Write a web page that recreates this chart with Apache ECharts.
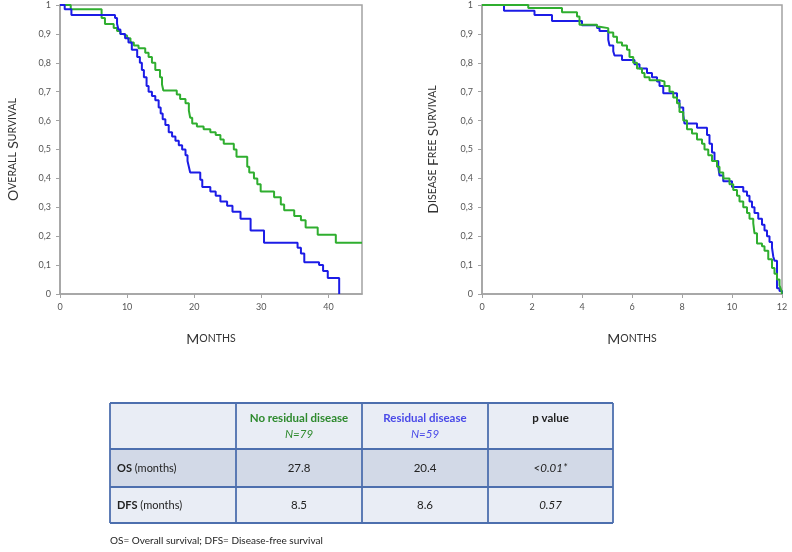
<!DOCTYPE html>
<html>
<head>
<meta charset="utf-8">
<script src="https://cdn.jsdelivr.net/npm/echarts@6/dist/echarts.min.js"></script>
<style>
html,body{margin:0;padding:0;background:#fff;}
#chart{width:792px;height:552px;}
</style>
</head>
<body>
<div id="chart"></div>
<script>
// ---- Overall survival (months) ----
const osNoResTime = [0, 1.6, 6.2, 6.7, 8.0, 8.5, 9.0, 9.3, 10.0, 10.5, 11.0, 11.7, 12.7, 13.2, 13.7, 14.2, 14.9, 15.2, 15.4, 17.4, 17.9, 18.7, 19.2, 19.4, 19.7, 20.4, 21.4, 22.4, 23.2, 23.9, 24.4, 25.9, 26.3, 27.9, 28.2, 28.9, 29.4, 29.9, 31.9, 32.9, 33.4, 34.9, 35.9, 36.6, 38.4, 41.1, 45];
const osNoResSurv = [1, 0.985, 0.955, 0.934, 0.92, 0.91, 0.90, 0.894, 0.885, 0.87, 0.86, 0.85, 0.835, 0.82, 0.80, 0.775, 0.75, 0.725, 0.704, 0.69, 0.675, 0.66, 0.635, 0.61, 0.59, 0.58, 0.57, 0.56, 0.55, 0.535, 0.52, 0.50, 0.475, 0.44, 0.42, 0.40, 0.38, 0.355, 0.335, 0.31, 0.29, 0.27, 0.255, 0.23, 0.205, 0.177, 0.177];
const osResTime = [0, 0.7, 1.7, 8.2, 8.5, 8.7, 9.0, 9.7, 10.2, 10.7, 11.5, 11.9, 12.2, 12.5, 12.9, 13.2, 13.7, 14.2, 14.7, 15.0, 15.3, 15.7, 16.2, 16.7, 17.2, 17.7, 18.2, 18.7, 19.0, 19.2, 19.4, 20.9, 21.2, 22.4, 23.2, 23.9, 24.9, 25.7, 26.9, 28.4, 30.4, 35.4, 35.9, 36.4, 38.6, 39.2, 39.9, 41.6];
const osResSurv = [1, 0.985, 0.965, 0.955, 0.935, 0.915, 0.90, 0.885, 0.87, 0.845, 0.82, 0.80, 0.775, 0.75, 0.72, 0.70, 0.685, 0.67, 0.645, 0.625, 0.605, 0.585, 0.56, 0.545, 0.53, 0.515, 0.50, 0.48, 0.46, 0.44, 0.42, 0.395, 0.37, 0.355, 0.34, 0.32, 0.305, 0.285, 0.26, 0.22, 0.177, 0.16, 0.14, 0.11, 0.10, 0.08, 0.055, 0];

// ---- Disease free survival (months) ----
const dfsNoResTime = [0, 1.85, 3.2, 3.8, 3.9, 4.6, 4.7, 5.05, 5.25, 5.4, 5.6, 5.8, 5.9, 6.05, 6.2, 6.4, 6.5, 6.7, 7.1, 7.3, 7.5, 7.65, 7.8, 7.9, 8.05, 8.2, 8.4, 8.6, 8.8, 8.9, 9.05, 9.2, 9.4, 9.5, 9.65, 9.9, 10.05, 10.2, 10.3, 10.45, 10.6, 10.7, 10.85, 10.9, 11.0, 11.2, 11.3, 11.45, 11.6, 11.7, 11.8, 11.9, 11.98, 12];
const dfsNoResSurv = [1, 0.99, 0.975, 0.96, 0.932, 0.925, 0.92, 0.905, 0.89, 0.87, 0.86, 0.845, 0.82, 0.80, 0.78, 0.765, 0.75, 0.74, 0.735, 0.72, 0.70, 0.68, 0.66, 0.63, 0.60, 0.57, 0.555, 0.535, 0.52, 0.50, 0.48, 0.46, 0.44, 0.42, 0.40, 0.38, 0.36, 0.34, 0.32, 0.30, 0.28, 0.26, 0.245, 0.21, 0.175, 0.165, 0.15, 0.12, 0.09, 0.07, 0.05, 0.03, 0.01, 0];
const dfsResTime = [0, 0.88, 2.1, 2.8, 4.0, 4.6, 4.7, 5.05, 5.1, 5.25, 5.3, 5.6, 6.1, 6.3, 6.6, 6.8, 7.0, 7.1, 7.25, 7.8, 7.9, 8.05, 8.1, 8.6, 9.0, 9.1, 9.2, 9.3, 9.45, 9.5, 9.65, 10.0, 10.45, 10.6, 10.7, 10.8, 10.9, 11.05, 11.2, 11.3, 11.4, 11.5, 11.6, 11.65, 11.7, 11.8, 11.9, 12];
const dfsResSurv = [1, 0.98, 0.965, 0.945, 0.93, 0.92, 0.91, 0.88, 0.86, 0.84, 0.825, 0.81, 0.795, 0.78, 0.765, 0.75, 0.735, 0.72, 0.695, 0.67, 0.645, 0.62, 0.59, 0.575, 0.55, 0.52, 0.49, 0.46, 0.44, 0.41, 0.39, 0.37, 0.355, 0.34, 0.32, 0.30, 0.28, 0.26, 0.24, 0.22, 0.20, 0.18, 0.16, 0.13, 0.115, 0.02, 0.01, 0];

// ---- Table ----
const tableHeaders = ['', 'No residual disease', 'Residual disease', 'p value'];
const tableHeaderN = ['', 'N=79', 'N=59', ''];
const rowLabels = ['OS', 'DFS'];
const rowUnits = [' (months)', ' (months)'];
const noResMedian = ['27.8', '8.5'];
const resMedian = ['20.4', '8.6'];
const pValues = ['<0.01*', '0.57'];
const footnote = 'OS= Overall survival; DFS= Disease-free survival';

const GREEN = '#2fae2f';
const BLUE = '#1c1ce6';
const AXISC = '#a3a3a3';

function pairs(t, s) { return t.map((v, i) => [v, s[i]]); }
function yFmt(v) {
  if (Math.abs(v) < 1e-9) return '0';
  if (Math.abs(v - 1) < 1e-9) return '1';
  return v.toFixed(1).replace('.', ',');
}

const rich = {
  a: { fontSize: 14, color: '#333', fontFamily: 'Lato' },
  b: { fontSize: 10.5, color: '#333', fontFamily: 'Lato' }
};

function xAxis(idx, max, interval) {
  return {
    type: 'value', gridIndex: idx, min: 0, max: max, interval: interval,
    axisLine: { show: true, lineStyle: { color: AXISC, width: 1.5 } },
    axisTick: { show: true, inside: false, length: 4, lineStyle: { color: AXISC } },
    axisLabel: { fontSize: 9, color: '#555', margin: 9, fontFamily: 'Lato', showMaxLabel: max % interval === 0,
      formatter: v => (Math.abs(v % interval) < 1e-9 ? String(v) : '') },
    splitLine: { show: false },
    name: '{a|M}{b|ONTHS}', nameLocation: 'middle', nameGap: 38,
    nameTextStyle: { rich: rich }
  };
}
function yAxis(idx, nm, gap) {
  return {
    type: 'value', gridIndex: idx, min: 0, max: 1, interval: 0.1,
    axisLine: { show: true, lineStyle: { color: AXISC, width: 1.5 } },
    axisTick: { show: true, inside: false, length: 4, lineStyle: { color: AXISC } },
    axisLabel: { fontSize: 9, color: '#555', margin: 9, fontFamily: 'Lato', formatter: yFmt },
    splitLine: { show: false },
    name: nm, nameLocation: 'middle', nameGap: gap, nameRotate: 90,
    nameTextStyle: { rich: rich }
  };
}
function stepSeries(idx, data, color) {
  return {
    type: 'line', xAxisIndex: idx, yAxisIndex: idx, step: 'end', data: data,
    showSymbol: false, symbol: 'none', animation: false,
    lineStyle: { color: color, width: 2 }, itemStyle: { color: color }
  };
}

// table graphics
const tX = 110, colW = [126, 126, 126, 125];
const rowY = [403, 449, 487, 523];
const rowFill = ['#e9edf5', '#d2d9e7', '#e9edf5'];
const borderC = '#4d6fae';
const colX = [tX];
colW.forEach((w, i) => colX.push(colX[i] + w));
const tW = colX[colX.length - 1] - tX;
const graphics = [];
for (let r = 0; r < 3; r++) {
  graphics.push({ type: 'rect', shape: { x: tX, y: rowY[r], width: tW, height: rowY[r + 1] - rowY[r] },
    style: { fill: rowFill[r] }, silent: true });
}
rowY.forEach(y => graphics.push({ type: 'line', shape: { x1: tX, y1: y, x2: tX + tW, y2: y }, style: { stroke: borderC, lineWidth: 1.8 } }));
colX.forEach(x => graphics.push({ type: 'line', shape: { x1: x, y1: rowY[0], x2: x, y2: rowY[3] }, style: { stroke: borderC, lineWidth: 1.8 } }));
const headColors = ['#222', '#2e8a2e', '#4a4ae8', '#222'];
for (let c = 1; c < 4; c++) {
  const cx = (colX[c] + colX[c + 1]) / 2;
  graphics.push({ type: 'text', style: { x: cx, y: 418, text: tableHeaders[c], fill: headColors[c], font: 'bold 11.5px Lato', textAlign: 'center', textVerticalAlign: 'middle' } });
  if (tableHeaderN[c]) {
    graphics.push({ type: 'text', style: { x: cx, y: 434, text: tableHeaderN[c], fill: headColors[c], font: 'italic 11.5px Lato', textAlign: 'center', textVerticalAlign: 'middle' } });
  }
}
const rowMid = [468, 505];
for (let r = 0; r < 2; r++) {
  graphics.push({ type: 'text', style: { x: 117, y: rowMid[r], text: '{b|' + rowLabels[r] + '}{n|' + rowUnits[r] + '}', textVerticalAlign: 'middle',
    rich: { b: { font: 'bold 11px Lato', fill: '#222' }, n: { font: '11px Lato', fill: '#222' } } } });
  const vals = [noResMedian[r], resMedian[r], pValues[r]];
  for (let c = 1; c < 4; c++) {
    graphics.push({ type: 'text', style: { x: (colX[c] + colX[c + 1]) / 2, y: rowMid[r], text: vals[c - 1], fill: '#222',
      font: (c === 3 ? 'italic ' : '') + '11.5px Lato', textAlign: 'center', textVerticalAlign: 'middle' } });
  }
}
graphics.push({ type: 'text', style: { x: 110, y: 541, text: footnote, fill: '#222', font: '10px Lato', textVerticalAlign: 'middle' } });

const chart = echarts.init(document.getElementById('chart'));
chart.setOption({
  backgroundColor: '#fff',
  animation: false,
  grid: [
    { left: 60, top: 5, width: 302, height: 289, show: true, borderColor: AXISC, borderWidth: 1.5, backgroundColor: 'transparent' },
    { left: 482, top: 5, width: 300, height: 289, show: true, borderColor: AXISC, borderWidth: 1.5, backgroundColor: 'transparent' }
  ],
  xAxis: [xAxis(0, 45, 10), xAxis(1, 12, 2)],
  yAxis: [yAxis(0, '{a|O}{b|VERALL} {a|S}{b|URVIVAL}', 40), yAxis(1, '{a|D}{b|ISEASE} {a|F}{b|REE} {a|S}{b|URVIVAL}', 42)],
  series: [
    stepSeries(0, pairs(osNoResTime, osNoResSurv), GREEN),
    stepSeries(0, pairs(osResTime, osResSurv), BLUE),
    stepSeries(1, pairs(dfsResTime, dfsResSurv), BLUE),
    stepSeries(1, pairs(dfsNoResTime, dfsNoResSurv), GREEN)
  ],
  graphic: graphics
});
</script>
</body>
</html>
